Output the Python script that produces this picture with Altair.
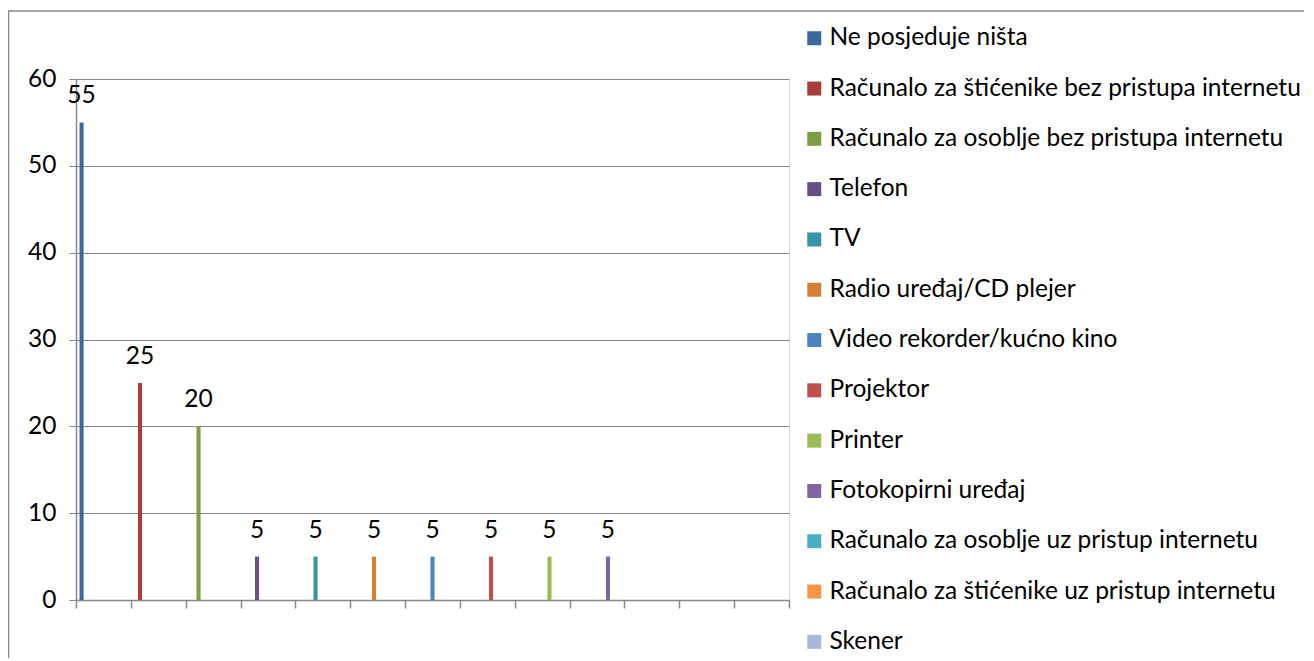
import altair as alt
import pandas as pd

series = [
    "Ne posjeduje ništa",
    "Računalo za štićenike bez pristupa internetu",
    "Računalo za osoblje bez pristupa internetu",
    "Telefon",
    "TV",
    "Radio uređaj/CD plejer",
    "Video rekorder/kućno kino",
    "Projektor",
    "Printer",
    "Fotokopirni uređaj",
    "Računalo za osoblje uz pristup internetu",
    "Računalo za štićenike uz  pristup internetu",
    "Skener",
]
values = [55, 25, 20, 5, 5, 5, 5, 5, 5, 5, None, None, None]
colors = [
    "#3C68A0", "#A63F3C", "#7E9D44", "#674F88", "#3792AB", "#D57F33",
    "#4F81BD", "#C0504D", "#9BBB59", "#8064A2", "#4BACC6", "#F79646",
    "#A7B9DA",
]
slots = ["1", "2", "3", "4", "5", "6", "7", "8", "9", "10", "11", "12", "13"]

FONT = "Lato"
FS = 24.5
GRAY = "#888888"

df = pd.DataFrame({"series": series, "value": values})
slot_df = pd.DataFrame({"slot": slots})

xbars = alt.X(
    "series:N",
    sort=series,
    scale=alt.Scale(type="band", domain=series, paddingInner=0.93, paddingOuter=0.06),
    axis=None,
)
ycol = alt.Y(
    "value:Q",
    scale=alt.Scale(domain=[0, 60]),
    axis=alt.Axis(
        values=[0, 10, 20, 30, 40, 50, 60],
        title=None,
        grid=True,
        gridColor=GRAY,
        gridWidth=1.2,
        domainColor=GRAY,
        domainWidth=1.5,
        tickColor=GRAY,
        tickSize=7,
        labelPadding=13,
        labelFont=FONT,
        labelFontSize=FS,
        labelColor="#000000",
    ),
)

bars = alt.Chart(df).mark_bar().encode(
    x=xbars,
    y=ycol,
    color=alt.Color(
        "series:N",
        sort=series,
        scale=alt.Scale(domain=series, range=colors),
        legend=alt.Legend(
            title=None,
            orient="none",
            legendX=726,
            legendY=-53,
            padding=0,
            symbolType="square",
            symbolSize=196,
            symbolStrokeWidth=0,
            labelFont=FONT,
            labelFontSize=FS,
            labelColor="#000000",
            labelOffset=3,
            rowPadding=25.3,
            labelLimit=700,
        ),
    ),
)

labels = alt.Chart(df).mark_text(
    dy=-26, baseline="middle", align="center", font=FONT, fontSize=FS, color="#000000"
).encode(x=xbars, y=alt.Y("value:Q"), text=alt.Text("value:Q"))

data_layer = alt.layer(bars, labels)

ticks = alt.Chart(slot_df).mark_point(opacity=0).encode(
    x=alt.X(
        "slot:N",
        sort=slots,
        scale=alt.Scale(type="band", domain=slots, paddingInner=0, paddingOuter=0),
        axis=alt.Axis(
            orient="bottom",
            title=None,
            labels=False,
            grid=False,
            tickBand="extent",
            tickSize=8,
            tickColor=GRAY,
            tickWidth=1.5,
            domainColor=GRAY,
            domainWidth=1.5,
        ),
    ),
    y=alt.value(0),
)

border = alt.Chart(slot_df.head(1)).mark_rule(color=GRAY, strokeWidth=1.5).encode(
    x=alt.value(-68), x2=alt.value(1300), y=alt.value(-68)
)
border_left = alt.Chart(slot_df.head(1)).mark_rule(color=GRAY, strokeWidth=1.5).encode(
    x=alt.value(-67.5), y=alt.value(-68), y2=alt.value(700)
)

chart = (
    alt.layer(border, border_left, ticks, data_layer)
    .resolve_scale(x="independent")
    .properties(
        width=713,
        height=521,
        autosize=alt.AutoSizeParams(type="none"),
        padding={"left": 68, "top": 71, "right": 515, "bottom": 58},
    )
    .configure_view(stroke=None)
    .configure(background="white")
)

chart.save("out.html", embed_options={"renderer": "svg", "actions": False})
